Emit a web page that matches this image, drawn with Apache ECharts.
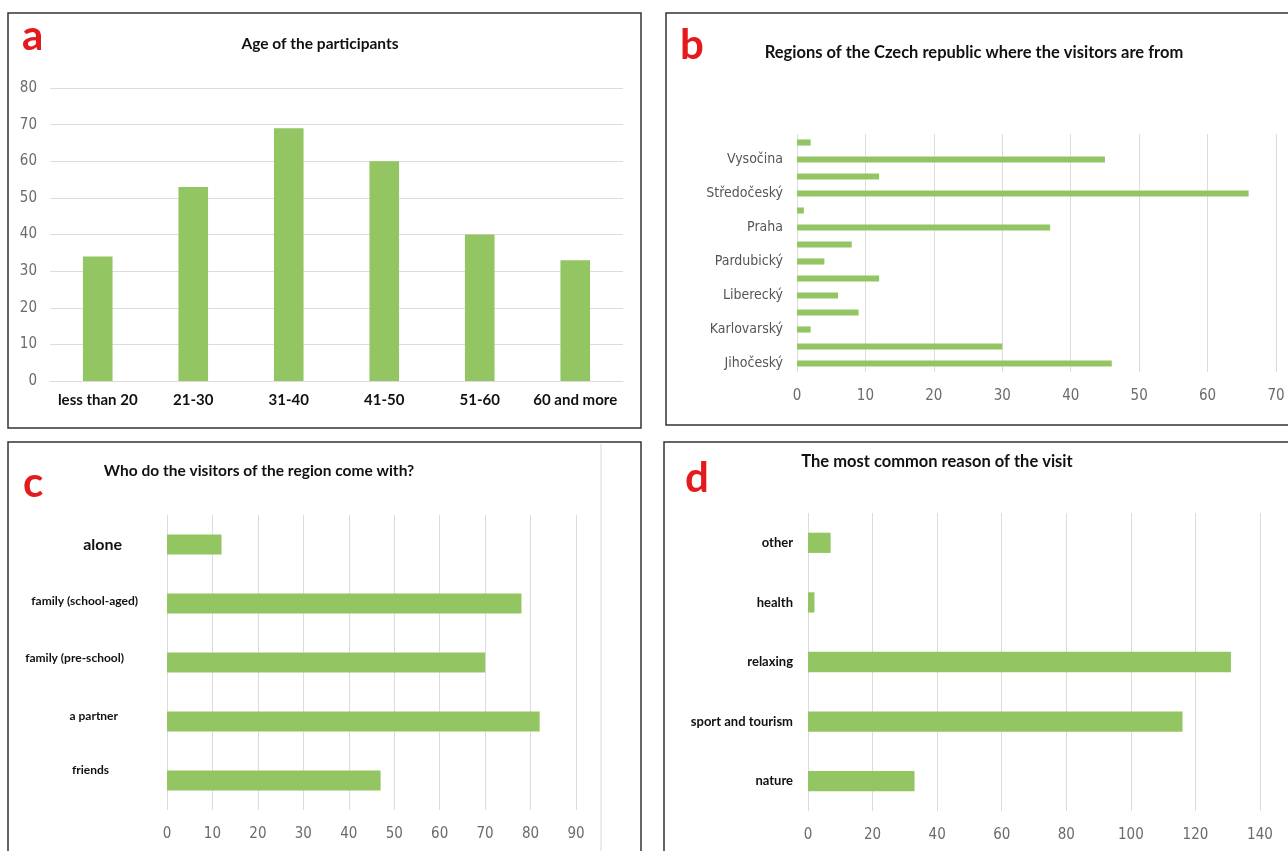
<!DOCTYPE html>
<html>
<head>
<meta charset="utf-8">
<script src="https://cdn.jsdelivr.net/npm/echarts@6/dist/echarts.min.js"></script>
<style>
  html, body { margin: 0; padding: 0; background: #fff; }
  #main { width: 1288px; height: 851px; }
</style>
</head>
<body>
<div id="main"></div>
<script>
// a - age
var ageCats = ['less than 20', '21-30', '31-40', '41-50', '51-60', '60 and more'];
var ageVals = [34, 53, 69, 60, 40, 33];

// b - regions (bottom to top)
var regionCats = ['Jihočeský', 'Jihomoravský', 'Karlovarský', 'Královéhradecký', 'Liberecký',
  'Moravskoslezský', 'Pardubický', 'Plzeňský', 'Praha', 'Olomoucký', 'Středočeský',
  'Ústecký', 'Vysočina', 'Zlínský'];
var regionVals = [46, 30, 2, 9, 6, 12, 4, 8, 37, 1, 66, 12, 45, 2];

// c - company (bottom to top)
var withCats = ['friends', 'a partner', 'family (pre-school)', 'family (school-aged)', 'alone'];
var withVals = [47, 82, 70, 78, 12];

// d - reason (bottom to top)
var reasonCats = ['nature', 'sport and tourism', 'relaxing', 'health', 'other'];
var reasonVals = [33, 116, 131, 2, 7];

var green = '#93c663';
var gridCol = '#dcdcdc';
var narrow = '"Liberation Sans Narrow", "DejaVu Sans Condensed", sans-serif';
var boldFont = 'Lato, "Open Sans", sans-serif';

function valAxis(gridIndex, max, interval, margin) {
  return {
    type: 'value', gridIndex: gridIndex, min: 0, max: max, interval: interval,
    axisLine: { show: false }, axisTick: { show: false },
    splitLine: { lineStyle: { color: gridCol, width: 1 } },
    axisLabel: { color: '#6b6b6b', fontFamily: narrow, fontSize: 15, margin: margin }
  };
}

function catAxis(gridIndex, data, labelOpts) {
  return {
    type: 'category', gridIndex: gridIndex, data: data,
    axisLine: { show: false }, axisTick: { show: false },
    splitLine: { show: false },
    axisLabel: labelOpts
  };
}

// the hand-placed look of the labels in panel c
var cRich = {
  c0: { fontSize: 12, fontWeight: 'bold', fontFamily: boldFont, color: '#111', padding: [0, 29, 20, 0] },
  c1: { fontSize: 12, fontWeight: 'bold', fontFamily: boldFont, color: '#111', padding: [0, 20, 10, 0] },
  c2: { fontSize: 12, fontWeight: 'bold', fontFamily: boldFont, color: '#111', padding: [0, 14, 8, 0] },
  c3: { fontSize: 12, fontWeight: 'bold', fontFamily: boldFont, color: '#111', padding: [0, 0, 4, 0] },
  c4: { fontSize: 16, fontWeight: 'bold', fontFamily: boldFont, color: '#111', padding: [0, 16, 0, 0] }
};

var option = {
  animation: false,
  backgroundColor: '#fff',
  grid: [
    { left: 50, right: 665, top: 88, bottom: 470 },
    { left: 797, right: 12, top: 134, bottom: 479 },
    { left: 167, right: 712, top: 515, bottom: 41 },
    { left: 808, right: 28, top: 513, bottom: 40 }
  ],
  xAxis: [
    {
      type: 'category', gridIndex: 0, data: ageCats,
      axisLine: { show: true, lineStyle: { color: gridCol } },
      axisTick: { show: false },
      axisLabel: { color: '#111', fontFamily: boldFont, fontWeight: 'bold', fontSize: 15, margin: 12, interval: 0 }
    },
    valAxis(1, 70, 10, 17),
    valAxis(2, 90, 10, 17),
    valAxis(3, 140, 20, 17)
  ],
  yAxis: [
    {
      type: 'value', gridIndex: 0, min: 0, max: 80, interval: 10,
      axisLine: { show: false }, axisTick: { show: false },
      splitLine: { lineStyle: { color: gridCol } },
      axisLabel: { color: '#6b6b6b', fontFamily: narrow, fontSize: 15, margin: 13 }
    },
    catAxis(1, regionCats, { color: '#555', fontFamily: narrow, fontSize: 14, margin: 14, interval: 1 }),
    catAxis(2, withCats, {
      interval: 0, margin: 29,
      formatter: function (v, i) { return '{c' + i + '|' + v + '}'; },
      rich: cRich
    }),
    catAxis(3, reasonCats, { color: '#111', fontFamily: boldFont, fontWeight: 'bold', fontSize: 13, margin: 15, interval: 0 })
  ],
  series: [
    { type: 'bar', xAxisIndex: 0, yAxisIndex: 0, data: ageVals, barWidth: '31%', itemStyle: { color: green } },
    { type: 'bar', xAxisIndex: 1, yAxisIndex: 1, data: regionVals, barWidth: '36%', itemStyle: { color: green } },
    { type: 'bar', xAxisIndex: 2, yAxisIndex: 2, data: withVals, barWidth: '34%', itemStyle: { color: green } },
    { type: 'bar', xAxisIndex: 3, yAxisIndex: 3, data: reasonVals, barWidth: '34%', itemStyle: { color: green } }
  ],
  graphic: [
    // panel frames
    { type: 'rect', shape: { x: 8, y: 13, width: 633, height: 415 }, style: { fill: 'none', stroke: '#333', lineWidth: 1.5 }, z: 100 },
    { type: 'rect', shape: { x: 666, y: 13, width: 640, height: 412 }, style: { fill: 'none', stroke: '#333', lineWidth: 1.5 }, z: 100 },
    { type: 'rect', shape: { x: 8, y: 442, width: 633, height: 420 }, style: { fill: 'none', stroke: '#333', lineWidth: 1.5 }, z: 100 },
    { type: 'rect', shape: { x: 664, y: 442, width: 640, height: 420 }, style: { fill: 'none', stroke: '#333', lineWidth: 1.5 }, z: 100 },
    { type: 'line', shape: { x1: 601, y1: 444, x2: 601, y2: 851 }, style: { stroke: '#d8d8d8', lineWidth: 1 } },
    // panel letters
    { type: 'text', left: 22, top: 15, style: { text: 'a', fill: '#e41a1c', font: 'bold 42px ' + boldFont } },
    { type: 'text', left: 680, top: 24, style: { text: 'b', fill: '#e41a1c', font: 'bold 42px ' + boldFont } },
    { type: 'text', left: 23, top: 462, style: { text: 'c', fill: '#e41a1c', font: 'bold 42px ' + boldFont } },
    { type: 'text', left: 685, top: 457, style: { text: 'd', fill: '#e41a1c', font: 'bold 42px ' + boldFont } },
    // titles
    { type: 'text', x: 320, y: 44, style: { text: 'Age of the participants', fill: '#111', font: 'bold 15.5px ' + boldFont, align: 'center', verticalAlign: 'middle' } },
    { type: 'text', x: 974, y: 53, style: { text: 'Regions of the Czech republic where the visitors are from', fill: '#111', font: 'bold 16.5px ' + boldFont, align: 'center', verticalAlign: 'middle' } },
    { type: 'text', x: 259, y: 471, style: { text: 'Who do the visitors of the region come with?', fill: '#111', font: 'bold 15.5px ' + boldFont, align: 'center', verticalAlign: 'middle' } },
    { type: 'text', x: 937, y: 462, style: { text: 'The most common reason of the visit', fill: '#111', font: 'bold 16.5px ' + boldFont, align: 'center', verticalAlign: 'middle' } }
  ]
};

var myChart = echarts.init(document.getElementById('main'));
myChart.setOption(option);
</script>
</body>
</html>
